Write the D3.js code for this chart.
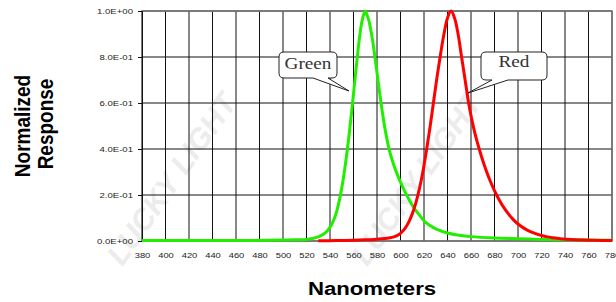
<!DOCTYPE html>
<html>
<head>
<meta charset="utf-8">
<script src="https://cdn.jsdelivr.net/npm/d3@7"></script>
<style>
  body { margin: 0; background: #fff; }
  svg { display: block; }
</style>
</head>
<body>
<div id="chart"></div>
<script>
// wavelength (nm) and normalized response
var greenNm  = [380, 420, 460, 500, 510, 520, 525, 530, 534, 538, 541, 544, 547, 550, 553, 556, 559, 562, 565, 567, 569, 570, 571, 573, 576, 579, 582, 585, 588, 591, 594, 597, 600, 603, 606, 609, 612, 615, 620, 625, 630, 640, 650, 660, 680, 700, 720, 740, 760, 780];
var greenVal = [0.002, 0.002, 0.002, 0.004, 0.005, 0.007, 0.011, 0.018, 0.028, 0.046, 0.068, 0.102, 0.155, 0.23, 0.33, 0.45, 0.59, 0.74, 0.88, 0.95, 0.99, 1.0, 0.99, 0.96, 0.88, 0.77, 0.655, 0.545, 0.455, 0.385, 0.335, 0.293, 0.256, 0.222, 0.192, 0.164, 0.14, 0.12, 0.088, 0.067, 0.053, 0.035, 0.025, 0.019, 0.013, 0.01, 0.007, 0.005, 0.004, 0.003];

var redNm  = [530, 545, 560, 570, 580, 590, 595, 598, 601, 604, 607, 610, 613, 616, 619, 622, 625, 628, 631, 634, 637, 640, 643, 646, 649, 652, 655, 658, 661, 664, 667, 670, 673, 676, 679, 682, 685, 688, 692, 696, 700, 705, 710, 715, 720, 725, 730, 736, 745, 755, 765, 780];
var redVal = [0.001, 0.002, 0.003, 0.005, 0.008, 0.013, 0.019, 0.026, 0.038, 0.056, 0.082, 0.118, 0.165, 0.225, 0.3, 0.39, 0.49, 0.6, 0.71, 0.81, 0.9, 0.97, 1.0, 0.97, 0.9, 0.8, 0.7, 0.6, 0.52, 0.455, 0.4, 0.35, 0.305, 0.265, 0.23, 0.198, 0.17, 0.145, 0.117, 0.093, 0.074, 0.056, 0.042, 0.032, 0.024, 0.018, 0.014, 0.01, 0.006, 0.004, 0.003, 0.002];

var xTicks = d3.range(380, 781, 20);
var yTicks = [0, 0.2, 0.4, 0.6, 0.8, 1.0];
var yTickLabels = ["0.0E+00", "2.0E-01", "4.0E-01", "6.0E-01", "8.0E-01", "1.0E+00"];

var width = 616;
var height = 302;
var padding = {top: 11, right: 4, bottom: 61, left: 142};
var plotW = width - padding.left - padding.right;
var plotH = height - padding.top - padding.bottom;
var stretch = "scale(1.2,1)";   // the original picture is widened a bit

var svg = d3.select("#chart")
            .append("svg")
            .attr("width", width)
            .attr("height", height);

// faint watermark
var marks = [
  {x: 180, y: 185},
  {x: 425, y: 185}
];
svg.selectAll(".wm")
   .data(marks)
   .enter()
   .append("text")
   .attr("class", "wm")
   .attr("transform", function(d){ return "translate(" + d.x + "," + d.y + ") rotate(-55)"; })
   .attr("text-anchor", "middle")
   .attr("font-family", "Liberation Sans, Arial, sans-serif")
   .attr("font-weight", "bold")
   .attr("font-style", "italic")
   .attr("font-size", "30px")
   .attr("fill", "#ececec")
   .text("LUCKY LIGHT");

var x = d3.scaleLinear().domain([380, 780]).range([0, plotW]);
var y = d3.scaleLinear().domain([0, 1]).range([plotH, 0]);

var g = svg.append("g")
           .attr("transform", "translate(" + padding.left + "," + padding.top + ")");

// grid
g.selectAll(".vgrid")
 .data(xTicks)
 .enter()
 .append("line")
 .attr("x1", function(d){ return x(d); })
 .attr("x2", function(d){ return x(d); })
 .attr("y1", 0)
 .attr("y2", plotH)
 .attr("stroke", "#111")
 .attr("stroke-width", 1);

g.selectAll(".hgrid")
 .data(yTicks)
 .enter()
 .append("line")
 .attr("x1", 0)
 .attr("x2", plotW)
 .attr("y1", function(d){ return y(d); })
 .attr("y2", function(d){ return y(d); })
 .attr("stroke", "#111")
 .attr("stroke-width", 1);

g.append("rect")
 .attr("x", 0)
 .attr("y", 0)
 .attr("width", plotW)
 .attr("height", plotH)
 .attr("fill", "none")
 .attr("stroke", "#777")
 .attr("stroke-width", 1.5);

// y axis labels
var yAxis = d3.axisLeft(y)
              .tickValues(yTicks)
              .tickSize(4)
              .tickFormat(function(d, i){ return yTickLabels[i]; });
var ya = g.append("g").call(yAxis);
ya.select(".domain").attr("stroke", "#111");
ya.selectAll(".tick line").attr("stroke", "#111");
ya.selectAll("text")
  .attr("font-family", "Liberation Sans, Arial, sans-serif")
  .attr("font-size", "8px")
  .attr("fill", "#222")
  .attr("x", -7.5)
  .attr("transform", stretch);

// x axis labels
var xAxis = d3.axisBottom(x)
              .tickValues(xTicks)
              .tickSize(0)
              .tickFormat(d3.format("d"));
var xa = g.append("g")
          .attr("transform", "translate(0," + plotH + ")")
          .call(xAxis);
xa.select(".domain").remove();
xa.selectAll("text")
  .attr("font-family", "Liberation Sans, Arial, sans-serif")
  .attr("font-size", "7.8px")
  .attr("fill", "#222")
  .attr("dy", "0")
  .attr("y", 17)
  .attr("transform", stretch);

// curves
var line = d3.line()
             .x(function(d){ return x(d[0]); })
             .y(function(d){ return y(d[1]); })
             .curve(d3.curveCatmullRom.alpha(0.5));

g.append("path")
 .datum(greenNm.map(function(d, i){ return [d, greenVal[i]]; }))
 .attr("d", line)
 .attr("fill", "none")
 .attr("stroke", "#22ee00")
 .attr("stroke-width", 3);

g.append("path")
 .datum(redNm.map(function(d, i){ return [d, redVal[i]]; }))
 .attr("d", line)
 .attr("fill", "none")
 .attr("stroke", "#ff0000")
 .attr("stroke-width", 3);

// callouts (box corners, wedge base and tip are in screen pixels)
var callouts = [
  {label: "Green", x0: 279, y0: 52, x1: 337, y1: 78, b0: 313, b1: 328, tx: 349, ty: 91, base: 69},
  {label: "Red",   x0: 481, y0: 52, x1: 547, y1: 80, b0: 492, b1: 508, tx: 468, ty: 93, base: 67}
];

function calloutPath(c){
  var r = 5;
  var p = d3.path();
  p.moveTo(c.x0 + r, c.y0);
  p.lineTo(c.x1 - r, c.y0);
  p.quadraticCurveTo(c.x1, c.y0, c.x1, c.y0 + r);
  p.lineTo(c.x1, c.y1 - r);
  p.quadraticCurveTo(c.x1, c.y1, c.x1 - r, c.y1);
  p.lineTo(c.b1, c.y1);
  p.lineTo(c.tx, c.ty);
  p.lineTo(c.b0, c.y1);
  p.lineTo(c.x0 + r, c.y1);
  p.quadraticCurveTo(c.x0, c.y1, c.x0, c.y1 - r);
  p.lineTo(c.x0, c.y0 + r);
  p.quadraticCurveTo(c.x0, c.y0, c.x0 + r, c.y0);
  p.closePath();
  return p.toString();
}

svg.selectAll(".callout")
   .data(callouts)
   .enter()
   .append("path")
   .attr("d", calloutPath)
   .attr("fill", "#fff")
   .attr("stroke", "#222")
   .attr("stroke-width", 1);

svg.selectAll(".calloutText")
   .data(callouts)
   .enter()
   .append("text")
   .attr("transform", function(d){ return "translate(" + ((d.x0 + d.x1) / 2) + "," + d.base + ") " + stretch; })
   .attr("text-anchor", "middle")
   .attr("font-family", "Liberation Serif, Times New Roman, serif")
   .attr("font-size", "16px")
   .attr("fill", "#333")
   .text(function(d){ return d.label; });

// axis titles
svg.append("text")
   .attr("transform", "translate(30,126) " + stretch + " rotate(-90)")
   .attr("text-anchor", "middle")
   .attr("font-family", "Liberation Sans, Arial, sans-serif")
   .attr("font-weight", "bold")
   .attr("font-size", "19px")
   .attr("fill", "#000")
   .text("Normalized");

svg.append("text")
   .attr("transform", "translate(53,124) " + stretch + " rotate(-90)")
   .attr("text-anchor", "middle")
   .attr("font-family", "Liberation Sans, Arial, sans-serif")
   .attr("font-weight", "bold")
   .attr("font-size", "19px")
   .attr("fill", "#000")
   .text("Response");

svg.append("text")
   .attr("transform", "translate(372,295) " + stretch)
   .attr("text-anchor", "middle")
   .attr("font-family", "Liberation Sans, Arial, sans-serif")
   .attr("font-weight", "bold")
   .attr("font-size", "18.5px")
   .attr("fill", "#000")
   .text("Nanometers");
</script>
</body>
</html>
